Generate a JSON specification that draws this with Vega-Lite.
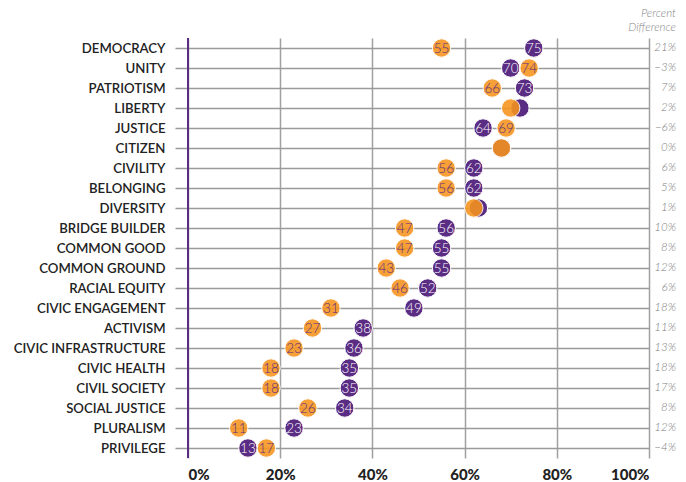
{
  "$schema": "https://vega.github.io/schema/vega-lite/v6.json",
  "width": 461,
  "height": 420,
  "autosize": {"type": "none"},
  "padding": {"left": 188, "top": 38, "right": 37, "bottom": 24},
  "background": "white",
  "config": {"view": {"stroke": null}, "font": "Lato"},
  "title": {
    "text": ["Percent", "Difference"],
    "anchor": "end",
    "align": "right",
    "offset": 3,
    "fontSize": 11.5,
    "fontStyle": "italic",
    "fontWeight": 300,
    "color": "#888888",
    "font": "Lato",
    "lineHeight": 14
  },
  "datasets": {
    "points": [
      {"term": "DEMOCRACY", "series": "A", "value": 75, "label": "75"},
      {"term": "UNITY", "series": "A", "value": 70, "label": "70"},
      {"term": "PATRIOTISM", "series": "A", "value": 73, "label": "73"},
      {"term": "LIBERTY", "series": "A", "value": 72, "label": ""},
      {"term": "JUSTICE", "series": "A", "value": 64, "label": "64"},
      {"term": "CITIZEN", "series": "A", "value": 68, "label": ""},
      {"term": "CIVILITY", "series": "A", "value": 62, "label": "62"},
      {"term": "BELONGING", "series": "A", "value": 62, "label": "62"},
      {"term": "DIVERSITY", "series": "A", "value": 63, "label": ""},
      {"term": "BRIDGE BUILDER", "series": "A", "value": 56, "label": "56"},
      {"term": "COMMON GOOD", "series": "A", "value": 55, "label": "55"},
      {"term": "COMMON GROUND", "series": "A", "value": 55, "label": "55"},
      {"term": "RACIAL EQUITY", "series": "A", "value": 52, "label": "52"},
      {"term": "CIVIC ENGAGEMENT", "series": "A", "value": 49, "label": "49"},
      {"term": "ACTIVISM", "series": "A", "value": 38, "label": "38"},
      {"term": "CIVIC INFRASTRUCTURE", "series": "A", "value": 36, "label": "36"},
      {"term": "CIVIC HEALTH", "series": "A", "value": 35, "label": "35"},
      {"term": "CIVIL SOCIETY", "series": "A", "value": 35, "label": "35"},
      {"term": "SOCIAL JUSTICE", "series": "A", "value": 34, "label": "34"},
      {"term": "PLURALISM", "series": "A", "value": 23, "label": "23"},
      {"term": "PRIVILEGE", "series": "A", "value": 13, "label": "13"},
      {"term": "DEMOCRACY", "series": "B", "value": 55, "label": "55"},
      {"term": "UNITY", "series": "B", "value": 74, "label": "74"},
      {"term": "PATRIOTISM", "series": "B", "value": 66, "label": "66"},
      {"term": "LIBERTY", "series": "B", "value": 70, "label": ""},
      {"term": "JUSTICE", "series": "B", "value": 69, "label": "69"},
      {"term": "CITIZEN", "series": "B", "value": 68, "label": ""},
      {"term": "CIVILITY", "series": "B", "value": 56, "label": "56"},
      {"term": "BELONGING", "series": "B", "value": 56, "label": "56"},
      {"term": "DIVERSITY", "series": "B", "value": 62, "label": ""},
      {"term": "BRIDGE BUILDER", "series": "B", "value": 47, "label": "47"},
      {"term": "COMMON GOOD", "series": "B", "value": 47, "label": "47"},
      {"term": "COMMON GROUND", "series": "B", "value": 43, "label": "43"},
      {"term": "RACIAL EQUITY", "series": "B", "value": 46, "label": "46"},
      {"term": "CIVIC ENGAGEMENT", "series": "B", "value": 31, "label": "31"},
      {"term": "ACTIVISM", "series": "B", "value": 27, "label": "27"},
      {"term": "CIVIC INFRASTRUCTURE", "series": "B", "value": 23, "label": "23"},
      {"term": "CIVIC HEALTH", "series": "B", "value": 18, "label": "18"},
      {"term": "CIVIL SOCIETY", "series": "B", "value": 18, "label": "18"},
      {"term": "SOCIAL JUSTICE", "series": "B", "value": 26, "label": "26"},
      {"term": "PLURALISM", "series": "B", "value": 11, "label": "11"},
      {"term": "PRIVILEGE", "series": "B", "value": 17, "label": "17"}
    ],
    "diffs": [
      {"term": "DEMOCRACY", "diff": "21%"},
      {"term": "UNITY", "diff": "−3%"},
      {"term": "PATRIOTISM", "diff": "7%"},
      {"term": "LIBERTY", "diff": "2%"},
      {"term": "JUSTICE", "diff": "−6%"},
      {"term": "CITIZEN", "diff": "0%"},
      {"term": "CIVILITY", "diff": "6%"},
      {"term": "BELONGING", "diff": "5%"},
      {"term": "DIVERSITY", "diff": "1%"},
      {"term": "BRIDGE BUILDER", "diff": "10%"},
      {"term": "COMMON GOOD", "diff": "8%"},
      {"term": "COMMON GROUND", "diff": "12%"},
      {"term": "RACIAL EQUITY", "diff": "6%"},
      {"term": "CIVIC ENGAGEMENT", "diff": "18%"},
      {"term": "ACTIVISM", "diff": "11%"},
      {"term": "CIVIC INFRASTRUCTURE", "diff": "13%"},
      {"term": "CIVIC HEALTH", "diff": "18%"},
      {"term": "CIVIL SOCIETY", "diff": "17%"},
      {"term": "SOCIAL JUSTICE", "diff": "8%"},
      {"term": "PLURALISM", "diff": "12%"},
      {"term": "PRIVILEGE", "diff": "−4%"}
    ]
  },
  "encoding": {
    "y": {
      "field": "term",
      "type": "nominal",
      "sort": null,
      "scale": {"type": "point", "padding": 0.5},
      "axis": {
        "title": null,
        "domain": false,
        "ticks": true,
        "tickSize": 13,
        "tickColor": "#9a9a9a",
        "tickWidth": 1.5,
        "grid": true,
        "gridColor": "#9a9a9a",
        "gridWidth": 1.5,
        "labelPadding": 10,
        "labelFont": "Lato",
        "labelFontSize": 13.2,
        "labelFontWeight": 600,
        "labelColor": "#222222"
      }
    }
  },
  "layer": [
    {
      "data": {"name": "points"},
      "mark": {"type": "point", "opacity": 0},
      "encoding": {
        "x": {
          "field": "value",
          "type": "quantitative",
          "scale": {"domain": [0, 100], "nice": false, "zero": true},
          "axis": {
            "title": null,
            "values": [0, 20, 40, 60, 80, 100],
            "domain": false,
            "ticks": false,
            "grid": true,
            "gridColor": "#a0a0a0",
            "gridWidth": 1.5,
            "labelExpr": "datum.value + '%'",
            "labelPadding": 9,
            "labelFont": "Lato",
            "labelFontSize": 15,
            "labelFontWeight": 900,
            "labelColor": "#222222"
          }
        }
      }
    },
    {
      "data": {"name": "points"},
      "mark": {"type": "rule", "color": "#5b2c83", "strokeWidth": 1.5},
      "encoding": {"x": {"datum": 0}, "y": null}
    },
    {
      "data": {"name": "points"},
      "mark": {"type": "circle", "size": 340, "stroke": "white", "strokeWidth": 1},
      "encoding": {
        "x": {"field": "value", "type": "quantitative"},
        "color": {
          "field": "series",
          "type": "nominal",
          "scale": {"domain": ["A", "B"], "range": ["#5b2c83", "#f7941d"]},
          "legend": null
        },
        "opacity": {
          "field": "series",
          "type": "nominal",
          "scale": {"domain": ["A", "B"], "range": [1, 0.88]},
          "legend": null
        }
      }
    },
    {
      "data": {"name": "points"},
      "mark": {"type": "text", "font": "Lato", "fontSize": 13.5, "fontWeight": 300, "baseline": "middle", "align": "center", "dy": 0.5},
      "encoding": {
        "x": {"field": "value", "type": "quantitative"},
        "text": {"field": "label"},
        "color": {
          "field": "series",
          "type": "nominal",
          "scale": {"domain": ["A", "B"], "range": ["#ffffff", "#5b2c83"]},
          "legend": null
        }
      }
    },
    {
      "data": {"name": "diffs"},
      "mark": {"type": "text", "font": "Lato", "fontSize": 11.5, "fontStyle": "italic", "fontWeight": 300, "align": "right", "baseline": "middle", "dx": 27, "color": "#808080"},
      "encoding": {
        "x": {"datum": 100},
        "text": {"field": "diff"}
      }
    }
  ],
  "resolve": {"scale": {"color": "independent"}}
}
